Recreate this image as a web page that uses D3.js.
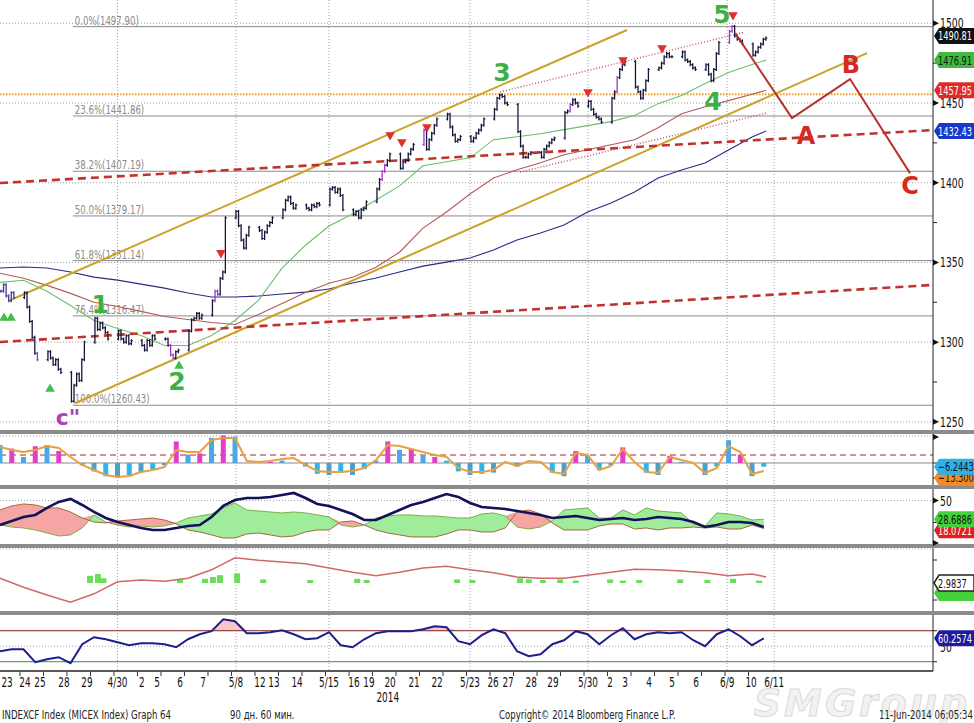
<!DOCTYPE html>
<html>
<head>
<meta charset="utf-8">
<script src="https://cdn.jsdelivr.net/npm/d3@7"></script>
<style>
body { margin: 0; background: #fff; }
svg text { font-family: "DejaVu Sans", sans-serif; }
</style>
</head>
<body>
<svg id="main-svg" width="974" height="723"></svg>
<script>
// hourly closes, 6 bars per trading session (day index 0..32)
var closes = [
    1332, 1336, 1329, 1326, 1331, 1328,
    1331, 1322, 1313, 1303, 1293, 1289,
    1294, 1290, 1286, 1289, 1283, 1281,
    1263, 1273, 1280, 1276, 1289, 1300,
    1315, 1308, 1312, 1309, 1306, 1302,
    1307, 1302, 1300, 1304, 1299, 1301,
    1298, 1295, 1301, 1298, 1304, 1302,
    1302, 1298, 1292, 1290, 1294, 1295,
    1307, 1314, 1315, 1318, 1315, 1317,
    1326, 1332, 1330, 1340, 1344, 1378,
    1382, 1373, 1364, 1359, 1367, 1372,
    1370, 1365, 1369, 1373, 1375, 1378,
    1383, 1389, 1391, 1387, 1384, 1386,
    1384, 1383, 1386, 1385, 1387, 1386,
    1396, 1397, 1394, 1396, 1392, 1383,
    1380, 1382, 1378, 1383, 1384, 1388,
    1396, 1402, 1407, 1411, 1414, 1418,
    1409, 1413, 1414, 1418, 1421, 1424,
    1433, 1421, 1427, 1431, 1436, 1440,
    1443, 1435, 1430, 1426, 1427, 1429,
    1426, 1428, 1431, 1433, 1436, 1440,
    1446, 1453, 1455, 1454, 1450, 1449,
    1432, 1423, 1416, 1416, 1418, 1419,
    1416, 1421, 1423, 1425, 1427, 1428,
    1444, 1445, 1449, 1452, 1450, 1448,
    1451, 1446, 1443, 1441, 1440, 1438,
    1453, 1457, 1466, 1471, 1474, 1476,
    1460, 1457, 1453, 1458, 1464, 1471,
    1472, 1475, 1479, 1481, 1479, 1479,
    1482, 1477, 1476, 1474, 1472, 1471,
    1474, 1468, 1464, 1471, 1481, 1488,
    1495, 1498, 1492, 1490, 1489, 1487,
    1480, 1482, 1485, 1487, 1490, 1490.81
];
var barsPerDay = 6;
var signalBars = [11, 44, 45, 55, 56, 98, 99, 108, 146, 158, 186, 187];

// moving averages, one reading per session + last bar
var maDays = d3.range(33).concat([32.6]);
var maGreen = [1337.5, 1338.8, 1331.9, 1323.0, 1313.6, 1308.6, 1304.2, 1297.9, 1297.9, 1304.2, 1313.6, 1326.2, 1346.4, 1360.8, 1372.8, 1380.4, 1389.2,
    1398.0, 1410.6, 1413.1, 1415.6, 1427.0, 1428.8, 1430.7, 1433.3, 1435.8, 1438.3, 1442.1, 1449.6, 1454.7, 1462.2, 1469.1, 1474.2, 1476.91];
var maRed = [1343.2, 1340.1, 1335.6, 1330.6, 1325.0, 1322.4, 1319.3, 1316.1, 1314.2, 1312.3, 1311.1, 1317.4, 1324.3, 1331.2, 1336.9, 1340.7, 1347.0,
    1356.4, 1371.5, 1381.6, 1392.9, 1403.0, 1408.1, 1412.5, 1417.5, 1420.7, 1423.8, 1427.0, 1434.5, 1443.3, 1447.7, 1451.5, 1455.5, 1457.95];
var maBlue = [1346.5, 1347.1, 1346.5, 1344.0, 1340.8, 1338.9, 1336.4, 1333.9, 1330.8, 1328.3, 1328.3, 1328.9, 1330.2, 1331.4, 1333.3, 1337.1, 1340.2,
    1344.0, 1347.7, 1350.2, 1352.8, 1357.8, 1364.1, 1368.5, 1373.5, 1381.6, 1387.3, 1394.2, 1402.9, 1408.0, 1412.4, 1420.5, 1428.7, 1432.43];

var fibLevels = [0, 23.6, 38.2, 50, 61.8, 76.4, 100];
var fibPrices = [1497.90, 1441.86, 1407.19, 1379.17, 1351.14, 1316.47, 1260.43];
var fibStart = 3.1;

// drawn annotations [day, price]
var goldUpper = [[0.43, 1326.3], [26.68, 1495.8]];
var goldLower = [[3.19, 1261.7], [36.89, 1481.3]];
var redUpper = [[0, 1399.8], [39.7, 1433.0]];
var redLower = [[0, 1300.1], [39.7, 1335.9]];
var dotUpper = [[21.28, 1456.9], [31.7, 1494.5]];
var dotLower = [[22.13, 1406.7], [32.64, 1443.7]];
var orangeLevel = 1455.5;
var abcPath = [[31.28, 1493.9], [33.70, 1440.5], [36.17, 1465.0], [38.72, 1406.0]];

var downMarks = [[9.40, 1356], [16.6, 1429.9], [17.1, 1425.5], [18.17, 1434.9], [25.02, 1456.9], [26.51, 1477], [28.17, 1484.5], [31.19, 1505.2]];
var upMarks = [[0.17, 1315.1], [0.47, 1315.1], [2.13, 1270.6], [7.62, 1285]];
var waveLabels = ['1', '2', '3', '4', '5'];
var wavePos = [[4.26, 1323.8], [7.53, 1275.6], [21.36, 1469.4], [30.34, 1451.3], [30.72, 1506.0]];
var abcLabels = ['A', 'B', 'C'];
var abcPos = [[34.3, 1429.8], [36.21, 1474.4], [38.72, 1398.6]];
var cLabelPos = [2.89, 1253.0];

// oscillator panel, half-session readings
var oscLine = [26.7, 21.7, 18.3, 21.7, 28.3, 25.0, 10.0, -3.3, -11.7, -20.0, -23.3, -21.7, -15.0, -11.7, -6.7, 21.7, 18.3, 18.3, 38.3, 41.7,
    41.7, 3.3, 1.7, 3.3, 6.7, 8.3, -3.3, -13.3, -15.0, -15.0, -13.3, -8.3, 5.0, 30.0, 28.3, 23.3, 18.3, 13.3, 10.0, -8.3,
    -15.0, -15.0, -11.7, 1.7, -5.0, 3.3, 1.7, -15.0, -18.3, 16.7, 13.3, -11.7, -5.0, 23.3, 1.7, -15.0, -16.7, 10.0, 5.0, 0,
    -16.7, -8.3, 28.3, 18.3, -18.3, -13.3];
var oscHist = [30, 24, 10, 28, 30, 20, 0, -4, -14, -22, -24, -20, -16, -10, -4, 36, 14, 16, 42, 46,
    44, 0, 0, 2, 4, 0, -6, -18, -20, -16, -20, -10, 4, 36, 22, 24, 12, 10, 4, -14,
    -20, -18, -16, 0, -6, 0, 2, -16, -22, 20, 12, -12, -4, 26, 0, -16, -20, 12, 2, 0,
    -20, -6, 38, 14, -22, -6.2443];
var oscSignal = 13.3;

// DMI panel
var adx = [22.1, 26.7, 31.3, 33.6, 41.6, 48.5, 51.9, 45.0, 37.0, 30.1, 25.5, 22.1, 18.7, 16.4, 16.4, 18.7, 21.0, 22.1, 31.3, 43.9,
    50.7, 53.0, 53.0, 54.2, 56.5, 58.8, 53.0, 46.2, 43.9, 39.3, 34.7, 27.8, 27.8, 33.6, 39.3, 45.0, 48.5, 53.0, 57.6, 54.2,
    47.3, 42.7, 41.6, 40.4, 38.1, 35.9, 33.6, 30.1, 31.3, 32.4, 30.1, 27.8, 29.0, 30.1, 27.8, 29.0, 31.3, 30.1, 29.0, 25.5,
    19.8, 22.1, 25.5, 25.5, 24.4, 19.8];
var plusDI = [22.1, 19.8, 18.7, 16.4, 12.9, 9.5, 10.7, 18.7, 33.6, 25.5, 22.1, 19.8, 21.0, 19.8, 21.0, 24.4, 30.1, 32.4, 34.7, 41.6,
    47.3, 39.3, 38.1, 37.0, 35.9, 37.0, 35.9, 33.6, 31.3, 22.1, 19.8, 22.1, 30.1, 32.4, 33.6, 33.6, 32.4, 32.4, 31.3, 30.1,
    30.1, 34.7, 35.9, 32.4, 19.8, 17.5, 19.8, 26.7, 39.3, 40.4, 41.6, 30.1, 30.1, 39.3, 33.6, 41.6, 38.1, 37.0, 35.9, 23.3,
    21.0, 35.9, 34.7, 32.4, 27.8, 28.6886];
var minusDI = [39.3, 43.9, 46.2, 45.0, 41.6, 41.6, 37.0, 30.1, 25.5, 24.4, 26.7, 27.8, 29.0, 30.1, 27.8, 23.3, 16.4, 14.1, 10.7, 7.2,
    7.2, 11.8, 12.9, 10.7, 8.4, 9.5, 14.1, 16.4, 16.4, 25.5, 26.7, 22.1, 16.4, 12.9, 10.7, 8.4, 8.4, 8.4, 11.8, 16.4,
    16.4, 14.1, 14.1, 18.7, 37.0, 39.3, 34.7, 24.4, 16.4, 16.4, 16.4, 21.0, 23.3, 23.3, 17.5, 18.7, 16.4, 18.7, 18.7, 19.8,
    18.7, 19.8, 17.5, 17.5, 22.1, 18.0721];

// fourth panel
var p4Line = [0.8, -0.7, -2.0, -3.2, -1.8, 0.2, 0.5, 0.3, 0.8, 2.2, 4.2, 3.8, 3.5, 3.2, 2.5, 1.8, 1.2,
    1.8, 2.5, 2.8, 2.2, 1.7, 1.0, 0.8, 0.8, 1.3, 1.8, 2.3, 2.2, 2.0, 1.7, 1.2, 1.5, 1.0];
var p4Blobs = [[3.83, 1.2], [4.17, 1.5], [4.4, 0.8], [7.66, 0.6], [8.72, 0.7], [9.06, 1.0], [9.36, 1.3], [10.09, 1.6], [11.2, 0.6],
    [13.2, 0.5], [15.2, 0.7], [15.6, 0.5], [19.45, 0.6], [20.1, 0.5], [22.13, 0.8], [22.5, 0.6], [23.1, 0.5], [23.83, 0.6],
    [24.5, 0.4], [25.96, 0.6], [26.5, 0.4], [27.2, 0.5], [28.94, 0.6], [30.1, 0.5], [31.19, 0.7], [32.3, 0.4]];
var p4Last = '2.9837';

// RSI panel
var rsi = [43.5, 46.1, 46.1, 29.4, 33.2, 35.8, 28.1, 52.6, 61.6, 59.0, 55.2, 51.3, 53.9, 53.9, 52.6, 48.7, 59.0, 65.5, 69.4, 84.8,
    82.3, 66.8, 66.8, 68.1, 70.6, 65.5, 59.0, 60.3, 68.1, 51.3, 48.7, 59.0, 66.8, 69.4, 69.4, 69.4, 71.9, 75.8, 74.5, 56.5,
    52.6, 64.2, 71.9, 66.8, 43.5, 37.1, 39.7, 52.6, 57.7, 69.4, 65.5, 52.6, 64.2, 73.2, 59.0, 65.5, 68.1, 66.8, 68.1, 57.7,
    50.0, 65.5, 71.9, 62.9, 51.3, 60.2574];

var xLabels = ['23', '24', '25', '28', '29', '4/30', '2', '5', '6', '7', '5/8', '12', '13', '14', '5/15', '16', '19', '20', '21', '22',
    '5/23', '26', '27', '28', '29', '5/30', '2', '3', '4', '5', '6', '6/9', '10', '6/11'];
var xLabelPos = [0.3, 1.06, 1.70, 2.72, 3.70, 5.0, 6.04, 6.68, 7.66, 8.64, 10.04, 11.06, 11.66, 12.64, 14.0, 15.06, 15.70, 16.60, 17.62, 18.60,
    20.0, 20.98, 21.62, 22.60, 23.53, 25.02, 25.96, 26.6, 27.62, 28.6, 29.62, 30.94, 31.96, 32.94];
var yearLabel = '2014', yearPos = 16.5;
var priceTicks = [1250, 1300, 1350, 1400, 1450, 1500];

var W = 933;
var svg = d3.select('#main-svg');
var x = d3.scaleLinear().domain([0, 39.7]).range([0, W]);
var yMain = d3.scaleLinear().domain([1244.9, 1514.6]).range([430, 0]);
var yOsc = d3.scaleLinear().domain([-36.7, 46.7]).range([485, 435]);
var yDmi = d3.scaleLinear().domain([0, 62.5]).range([544.3, 489.7]);
var yP4 = d3.scaleLinear().domain([-4.5, 5.5]).range([610, 550]);
var yRsi = d3.scaleLinear().domain([18, 90.3]).range([671, 615]);
var halfT = function(d, i) { return x(i * 0.5); };

// narrow text like the terminal font
function ctext(parent, tx, ty, str, size, anchor) {
    return parent.append('text')
        .attr('transform', 'translate(' + tx + ',' + ty + ') scale(0.66,1)')
        .attr('font-size', size)
        .attr('text-anchor', anchor || 'start')
        .text(str);
}

var defs = svg.append('defs');
[['clipMain', 0, 430], ['clipOsc', 435, 485], ['clipDmi', 489, 544], ['clipP4', 548, 611], ['clipRsi', 615, 671]].forEach(function(c) {
    defs.append('clipPath').attr('id', c[0]).append('rect')
        .attr('x', 0).attr('y', c[1]).attr('width', W).attr('height', c[2] - c[1]);
});

// grid
var grid = svg.append('g').attr('stroke', '#a0a0a0').attr('stroke-dasharray', '1,2').attr('stroke-width', 1);
priceTicks.forEach(function(v) {
    grid.append('line').attr('x1', 0).attr('x2', W).attr('y1', yMain(v)).attr('y2', yMain(v));
});
xLabels.forEach(function(l, i) {
    if (l.indexOf('/') < 0) return;
    grid.append('line').attr('x1', x(xLabelPos[i])).attr('x2', x(xLabelPos[i])).attr('y1', 0).attr('y2', 671);
});
[436, yDmi(50), 549, yRsi(50)].forEach(function(yy) {
    grid.append('line').attr('x1', 0).attr('x2', W).attr('y1', yy).attr('y2', yy);
});

// ---- main panel
var main = svg.append('g').attr('clip-path', 'url(#clipMain)');

fibLevels.forEach(function(lvl, i) {
    var yy = yMain(fibPrices[i]);
    main.append('line').attr('x1', x(fibStart)).attr('x2', W).attr('y1', yy).attr('y2', yy)
        .attr('stroke', '#8a8a8a').attr('stroke-width', 1);
    ctext(main, x(fibStart) + 2, yy - 2, lvl.toFixed(1) + '%(' + fibPrices[i].toFixed(2) + ')', 13)
        .attr('fill', '#8a8a8a');
});

var ptLine = d3.line().x(function(d) { return x(d[0]); }).y(function(d) { return yMain(d[1]); });

main.append('line').attr('x1', 0).attr('x2', W).attr('y1', yMain(orangeLevel)).attr('y2', yMain(orangeLevel))
    .attr('stroke', '#f29a1a').attr('stroke-width', 2).attr('stroke-dasharray', '1.5,1.5');

var maLine = d3.line().x(function(d, i) { return x(maDays[i]); }).y(function(d) { return yMain(d); });
[[maBlue, '#2b2b86'], [maRed, '#b35a5a'], [maGreen, '#6cbf6c']].forEach(function(m) {
    main.append('path').attr('d', maLine(m[0])).attr('fill', 'none').attr('stroke', m[1]).attr('stroke-width', 1.1);
});

[dotUpper, dotLower].forEach(function(l) {
    main.append('path').attr('d', ptLine(l)).attr('fill', 'none')
        .attr('stroke', '#c24a6a').attr('stroke-width', 1.4).attr('stroke-dasharray', '1,2');
});
[goldUpper, goldLower].forEach(function(l) {
    main.append('path').attr('d', ptLine(l)).attr('stroke', '#c9a227').attr('stroke-width', 2);
});
[redUpper, redLower].forEach(function(l) {
    main.append('path').attr('d', ptLine(l)).attr('stroke', '#c0332d').attr('stroke-width', 2.6).attr('stroke-dasharray', '8,5');
});

// bars: open = previous close
var barG = main.append('g');
closes.forEach(function(c, k) {
    var t = Math.floor(k / barsPerDay) + 0.04 + (k % barsPerDay) * 0.11;
    var o = k > 0 ? closes[k - 1] : c;
    var bx = x(t);
    var col = signalBars.indexOf(k) >= 0 ? '#9b35c8' : (k < 6 ? '#3a3a9a' : '#16163a');
    barG.append('line').attr('x1', bx).attr('x2', bx)
        .attr('y1', yMain(Math.max(o, c)) - 1.5).attr('y2', yMain(Math.min(o, c)) + 1.5)
        .attr('stroke', col).attr('stroke-width', 1.3);
    barG.append('line').attr('x1', bx - 1.5).attr('x2', bx).attr('y1', yMain(o)).attr('y2', yMain(o))
        .attr('stroke', col).attr('stroke-width', 1);
    barG.append('line').attr('x1', bx).attr('x2', bx + 1.5).attr('y1', yMain(c)).attr('y2', yMain(c))
        .attr('stroke', col).attr('stroke-width', 1);
});

main.append('path').attr('d', ptLine(abcPath)).attr('fill', 'none').attr('stroke', '#b8302a').attr('stroke-width', 2);

var tri = d3.symbol().type(d3.symbolTriangle).size(40);
downMarks.forEach(function(m) {
    main.append('path').attr('d', tri())
        .attr('transform', 'translate(' + x(m[0]) + ',' + yMain(m[1]) + ') rotate(180)').attr('fill', '#e0302a');
});
upMarks.forEach(function(m) {
    main.append('path').attr('d', tri())
        .attr('transform', 'translate(' + x(m[0]) + ',' + yMain(m[1]) + ')').attr('fill', '#3cc04a');
});

waveLabels.forEach(function(l, i) {
    main.append('text').attr('x', x(wavePos[i][0])).attr('y', yMain(wavePos[i][1]) + 9)
        .attr('text-anchor', 'middle').attr('font-size', 25).attr('font-weight', 'bold')
        .attr('fill', '#3cb043').text(l);
});
abcLabels.forEach(function(l, i) {
    main.append('text').attr('x', x(abcPos[i][0])).attr('y', yMain(abcPos[i][1]) + 9)
        .attr('text-anchor', 'middle').attr('font-size', 24).attr('font-weight', 'bold')
        .attr('fill', '#d42a22').text(l);
});
main.append('text').attr('x', x(cLabelPos[0])).attr('y', yMain(cLabelPos[1]) + 8)
    .attr('text-anchor', 'middle').attr('font-size', 22).attr('font-weight', 'bold')
    .attr('fill', '#b03fb5').text('c"');

// ---- oscillator panel
var osc = svg.append('g').attr('clip-path', 'url(#clipOsc)');
osc.append('line').attr('x1', 0).attr('x2', W).attr('y1', yOsc(0)).attr('y2', yOsc(0)).attr('stroke', '#8a8a8a');
osc.append('line').attr('x1', 0).attr('x2', W).attr('y1', yOsc(oscSignal)).attr('y2', yOsc(oscSignal))
    .attr('stroke', '#a02a2a').attr('stroke-dasharray', '6,4');
oscHist.forEach(function(v, i) {
    if (v === 0) return;
    osc.append('rect').attr('x', x(i * 0.5) - 2.5).attr('width', 5)
        .attr('y', Math.min(yOsc(0), yOsc(v))).attr('height', Math.abs(yOsc(v) - yOsc(0)))
        .attr('fill', v > 0 ? (i % 2 ? '#e23fc8' : '#4aa8e8') : (i % 2 ? '#2fb5e6' : '#4fa0c8'));
});
osc.append('path').attr('d', d3.line().x(halfT).y(function(d) { return yOsc(d); })(oscLine))
    .attr('fill', 'none').attr('stroke', '#e8a040').attr('stroke-width', 2);

// ---- DMI panel
var dmi = svg.append('g').attr('clip-path', 'url(#clipDmi)');
dmi.append('path').attr('fill', '#9fec9a')
    .attr('d', d3.area().x(halfT)
        .y0(function(d, i) { return yDmi(minusDI[i]); })
        .y1(function(d, i) { return yDmi(Math.max(plusDI[i], minusDI[i])); })(plusDI));
dmi.append('path').attr('fill', '#f6a5a5')
    .attr('d', d3.area().x(halfT)
        .y0(function(d, i) { return yDmi(plusDI[i]); })
        .y1(function(d, i) { return yDmi(Math.max(plusDI[i], minusDI[i])); })(plusDI));
dmi.append('path').attr('d', d3.line().x(halfT).y(function(d) { return yDmi(d); })(plusDI))
    .attr('fill', 'none').attr('stroke', '#78b048').attr('stroke-width', 1);
dmi.append('path').attr('d', d3.line().x(halfT).y(function(d) { return yDmi(d); })(minusDI))
    .attr('fill', 'none').attr('stroke', '#a8683c').attr('stroke-width', 1);
dmi.append('path').attr('d', d3.line().x(halfT).y(function(d) { return yDmi(d); })(adx))
    .attr('fill', 'none').attr('stroke', '#12125a').attr('stroke-width', 2.6);

// ---- fourth panel
var p4 = svg.append('g').attr('clip-path', 'url(#clipP4)');
p4Blobs.forEach(function(b) {
    p4.append('rect').attr('x', x(b[0]) - 3).attr('width', 6)
        .attr('y', yP4(b[1])).attr('height', yP4(0) - yP4(b[1])).attr('fill', '#6ade5a');
});
p4.append('path').attr('d', d3.line().x(function(d, i) { return x(maDays[i]); }).y(function(d) { return yP4(d); })(p4Line))
    .attr('fill', 'none').attr('stroke', '#d06868').attr('stroke-width', 1.5);

// ---- RSI panel
var rp = svg.append('g').attr('clip-path', 'url(#clipRsi)');
rp.append('path').attr('fill', '#f8c8c8')
    .attr('d', d3.area().x(halfT).y0(yRsi(70)).y1(function(d) { return yRsi(Math.max(d, 70)); })(rsi));
rp.append('path').attr('fill', '#bfe4f4')
    .attr('d', d3.area().x(halfT).y0(yRsi(30)).y1(function(d) { return yRsi(Math.min(d, 30)); })(rsi));
rp.append('line').attr('x1', 0).attr('x2', W).attr('y1', yRsi(70)).attr('y2', yRsi(70)).attr('stroke', '#7a1f1f');
rp.append('line').attr('x1', 0).attr('x2', W).attr('y1', yRsi(30)).attr('y2', yRsi(30)).attr('stroke', '#3d8f3d');
rp.append('path').attr('d', d3.line().x(halfT).y(function(d) { return yRsi(d); })(rsi))
    .attr('fill', 'none').attr('stroke', '#1e1e8c').attr('stroke-width', 2);

// ---- frame, separators, right axis
svg.append('line').attr('x1', W).attr('x2', W).attr('y1', 0).attr('y2', 671).attr('stroke', '#222');
svg.append('line').attr('x1', 0).attr('x2', W).attr('y1', 671).attr('y2', 671).attr('stroke', '#222').attr('stroke-width', 1.5);
[430, 485, 544, 611].forEach(function(yy) {
    svg.append('rect').attr('x', 0).attr('y', yy).attr('width', 974).attr('height', 4).attr('fill', '#8c8c8c');
});

var axisG = svg.append('g').attr('fill', '#111');
function pointer(yy) {
    axisG.append('path').attr('d', 'M' + W + ',' + (yy - 3) + 'L' + (W + 6) + ',' + yy + 'L' + W + ',' + (yy + 3) + 'Z');
}
function minor(yy) {
    axisG.append('line').attr('x1', W).attr('x2', W + 4).attr('y1', yy).attr('y2', yy).attr('stroke', '#222');
}
priceTicks.forEach(function(v) {
    pointer(yMain(v));
    ctext(axisG, W + 7, yMain(v) + 5, v, 14);
    if (v < 1500) minor(yMain(v + 25));
});
pointer(437); minor(yOsc(0)); minor(yOsc(-25));
pointer(yDmi(50)); minor(yDmi(25));
ctext(axisG, W + 7, yDmi(50) + 5, 50, 14);
pointer(543); minor(560); minor(yP4(0)); minor(600);
minor(yRsi(70)); minor(yRsi(30));
ctext(axisG, W + 7, yRsi(50) + 6, 50, 14);

function tag(yc, label, fill, color, stroke) {
    var g = svg.append('g');
    g.append('path').attr('d', 'M' + (W + 1) + ',' + yc + 'L' + (W + 6) + ',' + (yc - 8) + 'L974,' + (yc - 8) + 'L974,' + (yc + 8) + 'L' + (W + 6) + ',' + (yc + 8) + 'Z')
        .attr('fill', fill).attr('stroke', stroke || 'none').attr('stroke-width', 1.5);
    ctext(g, W + 5, yc + 4.5, label, 12.5).attr('fill', color);
}
tag(yMain(closes[closes.length - 1]) - 2, d3.format('.2f')(closes[closes.length - 1]), '#111', '#fff');
tag(yMain(maGreen[maGreen.length - 1]), d3.format('.2f')(maGreen[maGreen.length - 1]), '#3fba3f', '#111');
tag(yMain(maRed[maRed.length - 1]), d3.format('.2f')(maRed[maRed.length - 1]), '#e02a2a', '#fff');
tag(yMain(maBlue[maBlue.length - 1]), d3.format('.2f')(maBlue[maBlue.length - 1]), '#1838c8', '#fff');

var histTagY = yOsc(oscHist[oscHist.length - 1]);
tag(Math.max(yOsc(oscLine[oscLine.length - 1]), histTagY + 11), d3.format('.4f')(oscLine[oscLine.length - 1]), '#f08a2a', '#111');
tag(histTagY, d3.format('.4f')(oscHist[oscHist.length - 1]), '#2fb0e6', '#111');
var pTagY = yDmi(plusDI[plusDI.length - 1]);
tag(Math.max(yDmi(minusDI[minusDI.length - 1]), pTagY + 11), d3.format('.4f')(minusDI[minusDI.length - 1]), '#e02020', '#fff');
tag(pTagY, d3.format('.4f')(plusDI[plusDI.length - 1]), '#44d03a', '#111');
tag(yP4(0) + 10, '', '#44d03a', '#111');
tag(yP4(0), p4Last, '#fff', '#111', '#222');
tag(yRsi(rsi[rsi.length - 1]), d3.format('.4f')(rsi[rsi.length - 1]), '#1c1ca0', '#fff');

// ---- x axis labels
var xa = svg.append('g').attr('fill', '#111');
d3.range(33).forEach(function(i) {
    xa.append('line').attr('x1', x(i - 0.15)).attr('x2', x(i - 0.15)).attr('y1', 672).attr('y2', 676).attr('stroke', '#333');
});
xLabels.forEach(function(l, i) {
    ctext(xa, x(xLabelPos[i]), 687, l, 13.5, 'middle');
});
ctext(xa, x(yearPos), 702, yearLabel, 13.5, 'middle');

// watermark
svg.append('text').attr('x', 862).attr('y', 716).attr('text-anchor', 'middle')
    .attr('font-size', 38).attr('font-style', 'italic').attr('font-weight', 'bold')
    .style('letter-spacing', '3px')
    .attr('fill', '#f2f2f2').attr('stroke', '#dadada').attr('stroke-width', 1).text('SMGroup');

// footer
var foot = svg.append('g').attr('fill', '#222');
ctext(foot, 2, 719, 'INDEXCF Index (MICEX Index) Graph 64', 13);
ctext(foot, 230, 719, '90 дн. 60 мин.', 13);
ctext(foot, 499, 719, 'Copyright© 2014 Bloomberg Finance L.P.', 13);
ctext(foot, 973, 719, '11-Jun-2014 06:05:34', 13, 'end');
</script>
</body>
</html>
